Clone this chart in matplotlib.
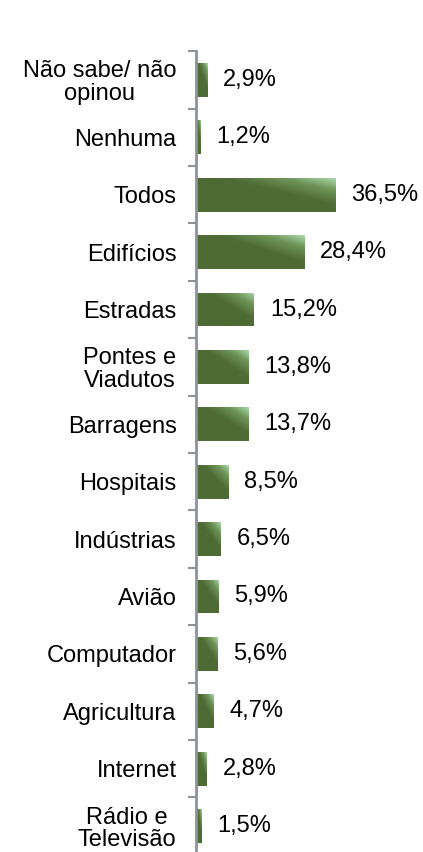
import numpy as np
import matplotlib
matplotlib.use("Agg")
import matplotlib.pyplot as plt
from matplotlib.colors import LinearSegmentedColormap

plt.rcParams['font.family'] = ['Liberation Sans', 'DejaVu Sans']

# dados
categorias = ["Não sabe/ não\nopinou", "Nenhuma", "Todos", "Edifícios", "Estradas",
              "Pontes e\nViadutos", "Barragens", "Hospitais", "Indústrias", "Avião",
              "Computador", "Agricultura", "Internet", "Rádio e\nTelevisão"]
valores = [2.9, 1.2, 36.5, 28.4, 15.2, 13.8, 13.7, 8.5, 6.5, 5.9, 5.6, 4.7, 2.8, 1.5]
rotulos = ["2,9%", "1,2%", "36,5%", "28,4%", "15,2%", "13,8%", "13,7%", "8,5%",
           "6,5%", "5,9%", "5,6%", "4,7%", "2,8%", "1,5%"]

fig = plt.figure(figsize=(4.23, 8.52), dpi=100)
ax = fig.add_axes([0.4634, -0.0032, 0.4504, 0.943])

y = np.arange(len(categorias))
barras = ax.barh(y, valores, height=0.59, color="#4E6B35", edgecolor="none")

# gradiente diagonal (canto inferior direito mais claro)
cmap = LinearSegmentedColormap.from_list("verde", [(0, "#4E6B35"), (0.6, "#4E6B35"),
                                                    (0.82, "#6E9458"), (1, "#A8D8A8")])
u, v = np.meshgrid(np.linspace(0, 1, 64), np.linspace(0, 1, 32))
grad = (u * 0.5 + v * 0.5)
for b in barras:
    x0, y0 = b.get_x(), b.get_y()
    w, h = b.get_width(), b.get_height()
    im = ax.imshow(grad, cmap=cmap, vmin=0, vmax=1, aspect="auto",
                   extent=(x0, x0 + w, y0, y0 + h), origin="upper",
                   interpolation="bilinear", zorder=2)
    im.set_clip_path(b)

for yi, val, txt in zip(y, valores, rotulos):
    ax.annotate(txt, (val, yi), xytext=(11.5, 0), textcoords="offset points",
                va="center", ha="left", fontsize=17)

ax.set_xlim(0, 50)
ax.set_ylim(len(categorias) - 0.5, -0.5)
ax.set_yticks(y)
ax.set_yticklabels(categorias, fontsize=17, multialignment="center", linespacing=1.05)
ax.tick_params(axis="y", which="major", length=0, pad=14)
ax.set_yticks(np.arange(-0.5, len(categorias), 1), minor=True)
ax.tick_params(axis="y", which="minor", length=6, width=1.5, color="#8C939A")
ax.set_xticks([])
for s in ["top", "right", "bottom"]:
    ax.spines[s].set_visible(False)
ax.spines["left"].set_color("#8C939A")
ax.spines["left"].set_linewidth(2)

fig.savefig("out.png", dpi=100)
